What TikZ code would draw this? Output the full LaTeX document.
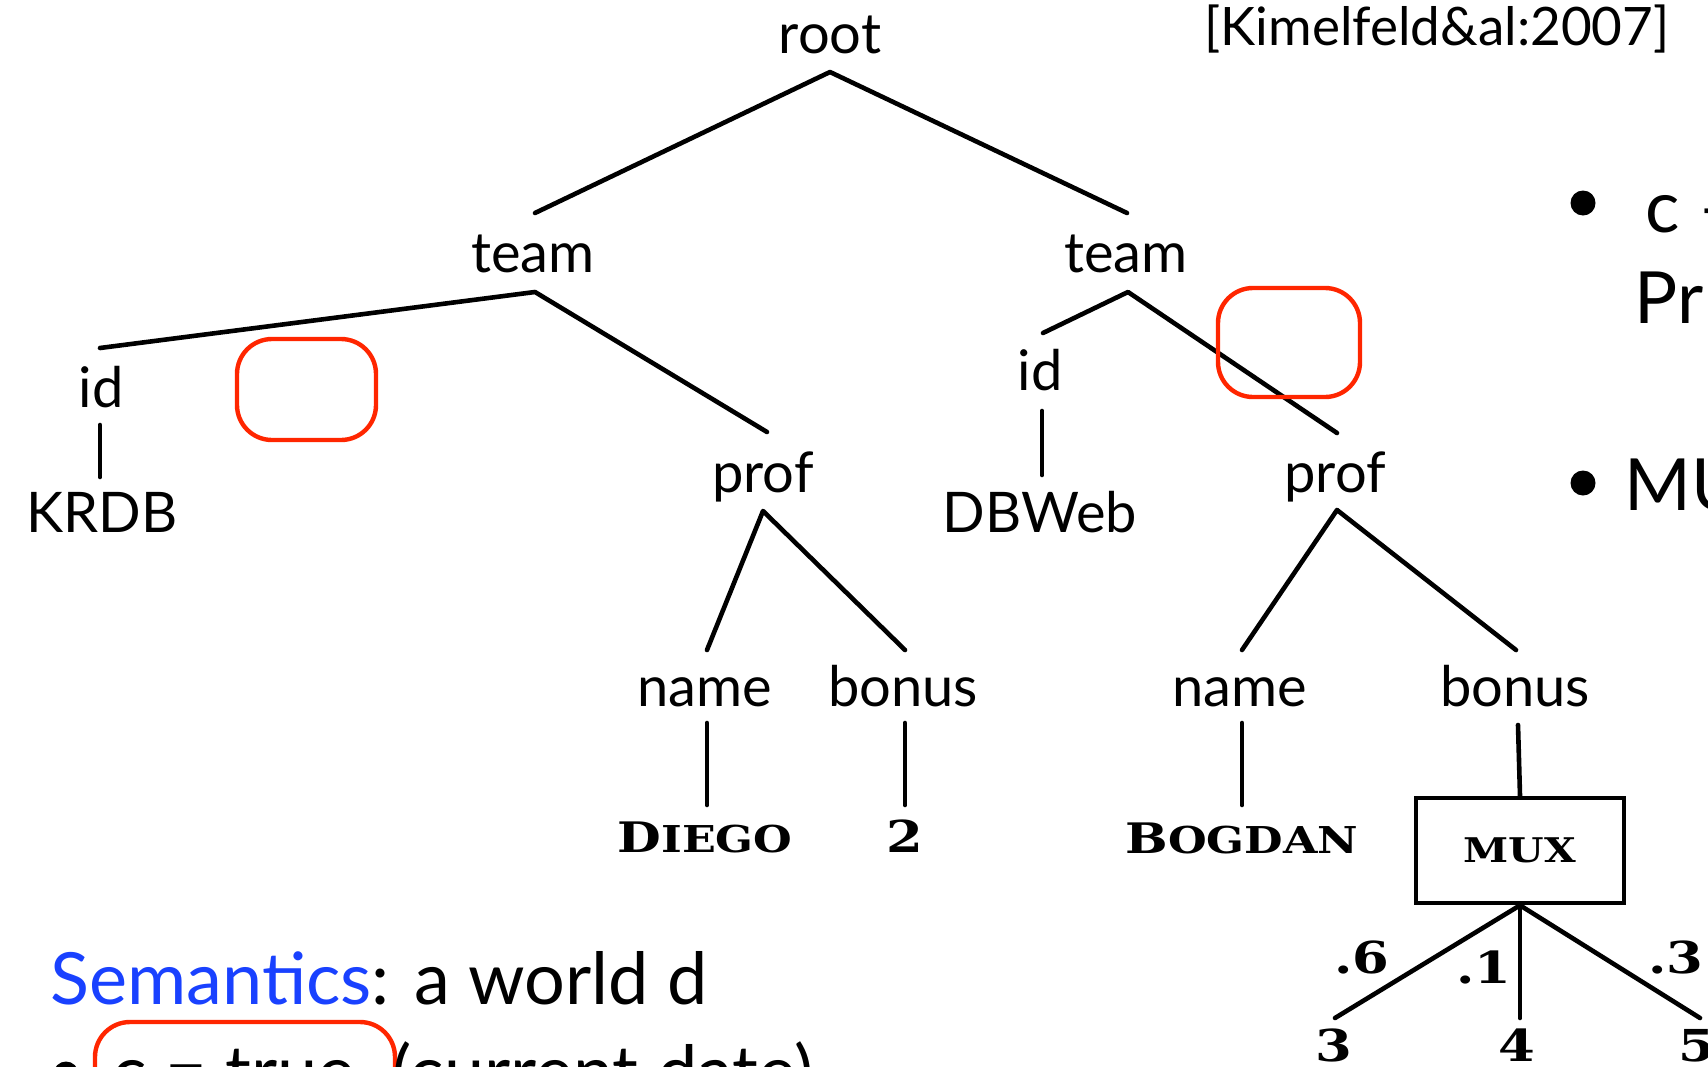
\documentclass[tikz,border=0pt]{standalone}
\usepackage{fontspec}
\setmainfont{Lato}
\newfontfamily\cpfont{DejaVu Serif}[FakeStretch=1.2]
\definecolor{hlred}{RGB}{255,38,0}
\definecolor{semblue}{RGB}{25,65,255}
\newcommand\cpsc[2]{{\fontsize{21}{21}\selectfont #1}{\fontsize{18.5}{18.5}\selectfont #2}}
\begin{document}
\begin{tikzpicture}[x=0.5pt,y=-0.5pt,
  lbl/.style={font=\fontsize{28}{30}\selectfont, anchor=base, inner sep=0pt},
  cp/.style={font=\cpfont\bfseries\fontsize{22}{22}\selectfont, anchor=base, inner sep=0pt},
  body/.style={font=\fontsize{36}{40}\selectfont, anchor=base west, inner sep=0pt},
  edge/.style={line width=2.3pt, line cap=round, line join=round},
  hl/.style={draw=hlred, line width=2.2pt, rounded corners=17.5pt},
  muxbox/.style={draw, line width=2.3pt, minimum width=104pt, minimum height=52.5pt, inner sep=0pt,
     font=\cpfont\bfseries\fontsize{17}{17}\selectfont}]
\useasboundingbox (0,0) rectangle (1708,1066);
\clip (0,0) rectangle (1708,1066);

% ---- labels
\node[lbl] (root) at (830,53) {root};
\node[lbl, font=\fontsize{26.5}{28}\selectfont] (cite) at (1437,45) {[Kimelfeld\&al:2007]};
\node[lbl] (teamL) at (533,272) {team};
\node[lbl] (teamR) at (1126,272) {team};
\node[lbl] (idL) at (101,407) {id};
\node[lbl] (krdb) at (102,532) {KRDB};
\node[lbl] (profL) at (763,492) {prof};
\node[lbl] (nameL) at (705,706) {name};
\node[lbl] (bonusL) at (903,706) {bonus};
\node[cp] (diego) at (705,852) {\cpsc{D}{IEGO}};
\node[cp] (two) at (905,852) {2};
\node[lbl] (idR) at (1040,390) {id};
\node[lbl] (dbweb) at (1040,532) {DBWeb};
\node[lbl] (profR) at (1335,492) {prof};
\node[lbl] (nameR) at (1240,706) {name};
\node[lbl] (bonusR) at (1515,706) {bonus};
\node[cp] (bogdan) at (1242,853) {\cpsc{B}{OGDAN}};
\node[muxbox] (mux) at (1520,850.5) {MUX};
\node[cp] (p6) at (1362,973) {.6};
\node[cp] (p1) at (1484,983) {.1};
\node[cp] (p3) at (1676,973) {.3};
\node[cp] (v3) at (1334,1061) {3};
\node[cp] (v4) at (1517,1061) {4};
\node[cp] (v5) at (1697,1061) {5};

% ---- edge end points
\coordinate (rootv) at (830,72);
\coordinate (teamLt) at (535,213);
\coordinate (teamRt) at (1127,213);
\coordinate (teamLv) at (535,292);
\coordinate (idLt) at (100,348);
\coordinate (profLt) at (767,432);
\coordinate (idLb) at (100,425);
\coordinate (krdbT) at (100,477);
\coordinate (profLv) at (763,511);
\coordinate (nameLt) at (707,650);
\coordinate (bonusLt) at (905,650);
\coordinate (nameLb) at (707,723);
\coordinate (diegoT) at (707,805);
\coordinate (bonusLb) at (905,723);
\coordinate (twoT) at (905,805);
\coordinate (teamRv) at (1128,292);
\coordinate (idRt) at (1043,333);
\coordinate (profRt) at (1337,433);
\coordinate (idRb) at (1042,411);
\coordinate (dbwebT) at (1042,475);
\coordinate (profRv) at (1337,510);
\coordinate (nameRt) at (1242,650);
\coordinate (bonusRt) at (1516,650);
\coordinate (nameRb) at (1242,723);
\coordinate (bogdanT) at (1242,805);
\coordinate (bonusRb) at (1518,725);
\coordinate (threeT) at (1335,1018);
\coordinate (fourT) at (1520,1018);
\coordinate (fiveT) at (1700,1018);

% ---- edges
\draw[edge] (teamLt) -- (rootv) -- (teamRt);
\draw[edge] (idLt) -- (teamLv) -- (profLt);
\draw[edge] (idLb) -- (krdbT);
\draw[edge] (nameLt) -- (profLv) -- (bonusLt);
\draw[edge] (nameLb) -- (diegoT);
\draw[edge] (bonusLb) -- (twoT);
\draw[edge] (idRt) -- (teamRv) -- (profRt);
\draw[edge] (idRb) -- (dbwebT);
\draw[edge] (nameRt) -- (profRv) -- (bonusRt);
\draw[edge] (nameRb) -- (bogdanT);
\draw[edge] (bonusRb) -- (mux.north);
\draw[edge] (threeT) -- (mux.south) -- (fiveT);
\draw[edge] (mux.south) -- (fourT);

% ---- highlight boxes
\draw[hl] (237,339) rectangle (376,440);
\draw[hl] (1218,288) rectangle (1360,397);
\draw[hl] (95,1022) rectangle (395,1130);

% ---- side text
\fill (1583,203) circle[radius=6.25pt];
\node[body] (cR) at (1645,232) {c --};
\node[body] (prR) at (1634,323) {Pr};
\fill (1583,483) circle[radius=6.25pt];
\node[body] (muR) at (1624,510) {MUX};

\node[body] (sem) at (50,1004) {\textcolor{semblue}{Semantics}: a world d};
\fill (66,1074) circle[radius=6.25pt];
\node[body] (cond) at (112,1097) {c = true \ (current date)};
\end{tikzpicture}
\end{document}
